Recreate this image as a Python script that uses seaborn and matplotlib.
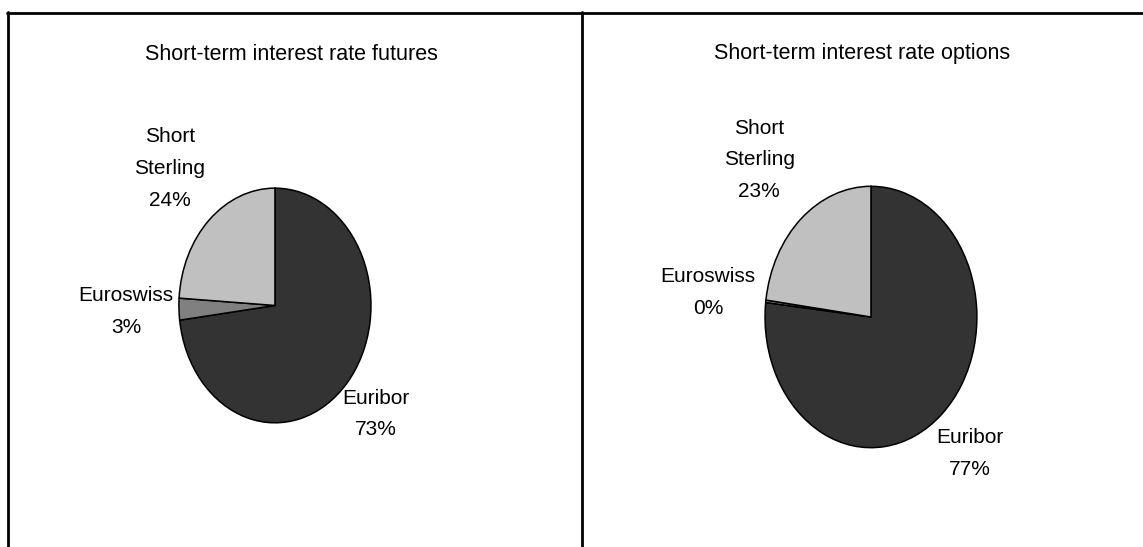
import matplotlib
matplotlib.use("Agg")
import numpy as np
import matplotlib.pyplot as plt
import seaborn as sns
from matplotlib.lines import Line2D

# data
names = ["Euribor", "Euroswiss", "Short\nSterling"]
futures_share = [73, 3, 24]
options_share = [77, 0.3, 23]
titles = ["Short-term interest rate futures", "Short-term interest rate options"]
colors = ["#333333", "#808080", "#c0c0c0"]

sns.set_theme(style="white")
plt.rcParams["font.family"] = ["Liberation Sans", "DejaVu Sans"]
plt.rcParams["text.color"] = "black"

fig = plt.figure(figsize=(11.43, 5.47), dpi=100)

# pie boxes in figure fraction (left, bottom, width, height)
boxes = [[0.1557, 0.2249, 0.1697, 0.4333],
         [0.6684, 0.1792, 0.1872, 0.4826]]
title_x = [0.2546, 0.7542]
label_dist = [1.4, 1.55, 1.6]


def labels_for(vals):
    tot = sum(vals)
    return [f"{n}\n{round(v / tot * 100):.0f}%" for n, v in zip(names, vals)]


for box, vals, title, tx in zip(boxes, [futures_share, options_share], titles, title_x):
    ax = fig.add_axes(box)
    wedges, texts = ax.pie(vals, labels=labels_for(vals), colors=colors,
                           startangle=90, counterclock=False,
                           wedgeprops={"edgecolor": "black", "linewidth": 1.1},
                           textprops={"fontsize": 15, "color": "black",
                                      "linespacing": 1.85})
    for w, t, d in zip(wedges, texts, label_dist):
        mid = np.deg2rad((w.theta1 + w.theta2) / 2)
        t.set_position((d * np.cos(mid), d * np.sin(mid)))
        t.set_ha("center")
        t.set_va("center")
    ax.set_aspect("auto")
    ax.set_xlim(-1.01, 1.01)
    ax.set_ylim(-1.01, 1.01)
    ax.axis("off")
    fig.text(tx, 1 - 54 / 547, title, ha="center", va="center", fontsize=15.5)

# panel borders
lw = 2
fig.add_artist(Line2D([8 / 1143, 8 / 1143], [0, 1 - 12 / 547], color="black", lw=lw))
fig.add_artist(Line2D([582 / 1143, 582 / 1143], [0, 1 - 12 / 547], color="black", lw=lw))
fig.add_artist(Line2D([7 / 1143, 1], [1 - 13 / 547, 1 - 13 / 547], color="black", lw=lw))

fig.savefig("out.png", dpi=100)
